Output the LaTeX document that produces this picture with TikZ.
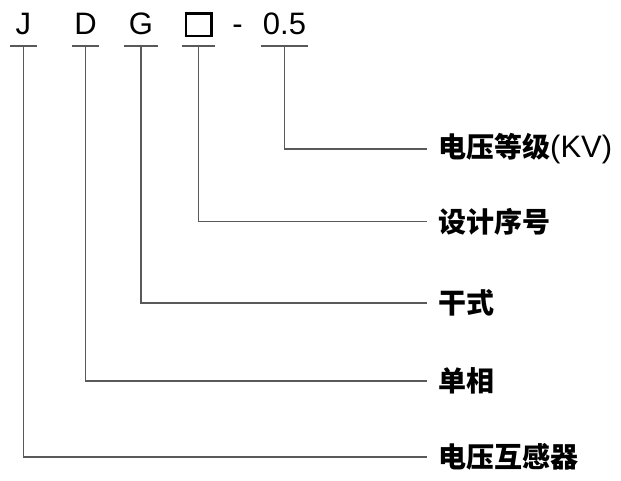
\documentclass[tikz,border=0pt]{standalone}
\usepackage{fontspec}
\usepackage{tikz}
\setmainfont{Liberation Sans}
\newfontfamily\cjk{Noto Sans CJK SC}
\tikzset{
  code/.style={anchor=south, inner xsep=0pt, inner ysep=11pt, text depth=0pt, font=\fontsize{31}{31}\selectfont},
  lab/.style={anchor=west, inner xsep=11pt, inner ysep=0pt, font=\fontsize{28}{28}\selectfont\cjk\bfseries},
  wire/.style={draw=black!65, line width=1.1pt},
}
\begin{document}
\begin{tikzpicture}[x=1pt, y=-1pt]%1px=1pt
  \useasboundingbox (0,0) rectangle (621,481);
  \node[code, minimum width=27pt] (J) at (23.5,46) {J};
  \node[code, minimum width=27pt] (D) at (85.5,46) {D};
  \node[code, minimum width=34pt] (G) at (141,46) {G};
  \node[code, minimum width=33pt] (B) at (198.5,46) {\setlength\fboxrule{2.5pt}\setlength\fboxsep{0pt}\fbox{\rule{0pt}{20pt}\hspace{23pt}}};%方框
  \node[code] (dash) at (237.5,46) {-};
  \node[code, minimum width=47pt] (V) at (284.5,46) {0.5};
  \node[lab] (dj) at (427,149) {电压等级{\rmfamily\mdseries\fontsize{31}{31}\selectfont(KV)}};
  \node[lab] (xh) at (427,221.5) {设计序号};
  \node[lab] (gs) at (427,303) {干式};
  \node[lab] (dx) at (427,381) {单相};
  \node[lab] (hg) at (427,457) {电压互感器};
  \foreach \n in {J,D,G,B,V}
    \draw[wire] (\n.south west) -- (\n.south east);%下划线
  \draw[wire] (V.south) |- (dj.west);
  \draw[wire] (B.south) |- (xh.west);
  \draw[wire] (G.south) |- (gs.west);
  \draw[wire] (D.south) |- (dx.west);
  \draw[wire] (J.south) |- (hg.west);
\end{tikzpicture}
\end{document}
